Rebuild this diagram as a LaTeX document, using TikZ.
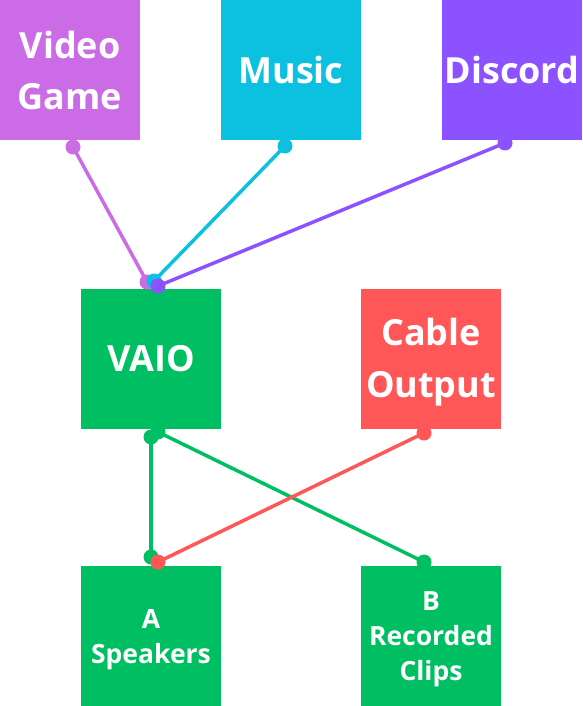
\documentclass[tikz,border=0pt]{standalone}
\usepackage{fontspec}
\setmainfont{Open Sans}
\definecolor{cvg}{HTML}{CB6CE6}
\definecolor{cmu}{HTML}{0CC0DF}
\definecolor{cdi}{HTML}{8C52FF}
\definecolor{cgr}{HTML}{00BF63}
\definecolor{crd}{HTML}{FF5757}
\begin{document}
\begin{tikzpicture}[x=1pt,y=-1pt,
  box/.style={minimum width=140pt,minimum height=140pt,inner sep=0pt,text=white,align=center},
  txt/.style={inner sep=0pt,text=white,align=center,yshift=-3.5pt},
  big/.style={font=\fontsize{36}{51}\selectfont\bfseries},
  mid/.style={font=\fontsize{36}{52}\selectfont\bfseries},
  small/.style={font=\fontsize{26.5}{35}\selectfont\bfseries},
  conn/.style={line width=3.5pt},
  dotc/.style={radius=7.5pt}]
\useasboundingbox (0,0) rectangle (582,706);
\node[box,fill=cvg,label={[txt,big,yshift=3pt]center:Video\\Game}] (vg) at (70,70) {};
\node[box,big,fill=cmu] (mu) at (291,70) {Music};
\node[box,big,fill=cdi] (di) at (512,70) {Discord};
\node[box,mid,fill=cgr] (vaio) at (151,359) {VAIO};
\node[box,fill=crd,label={[txt,mid]center:Cable\\Output}] (co) at (431,359) {};
\node[box,fill=cgr,label={[txt,small]center:A\\Speakers}] (sp) at (151,636) {};
\node[box,fill=cgr,label={[txt,small]center:B\\Recorded\\Clips}] (rc) at (431,636) {};
% connector ends
\coordinate (vgo) at (73,147);
\coordinate (muo) at (285,146);
\coordinate (dio) at (505,143);
\coordinate (vgi) at (147,282);
\coordinate (mui) at (154,281);
\coordinate (dii) at (158,286);
\coordinate (vo1) at (151,437);
\coordinate (vo2) at (158,432);
\coordinate (spi) at (151,557);
\coordinate (rci) at (424,562);
\coordinate (coo) at (424,433);
\coordinate (spr) at (158,562);
% sources to VAIO
\draw[conn,cvg] (vgo) -- (vgi);
\fill[cvg] (vgo) circle[dotc] (vgi) circle[dotc];
\draw[conn,cmu] (muo) -- (mui);
\fill[cmu] (muo) circle[dotc] (mui) circle[dotc];
\draw[conn,cdi] (dio) -- (dii);
\fill[cdi] (dio) circle[dotc] (dii) circle[dotc];
% outputs
\draw[conn,cgr] (vo1) -- (spi);
\fill[cgr] (vo1) circle[dotc] (spi) circle[dotc];
\draw[conn,cgr] (vo2) -- (rci);
\fill[cgr] (vo2) circle[dotc] (rci) circle[dotc];
\draw[conn,crd] (coo) -- (spr);
\fill[crd] (coo) circle[dotc] (spr) circle[dotc];
\end{tikzpicture}
\end{document}
